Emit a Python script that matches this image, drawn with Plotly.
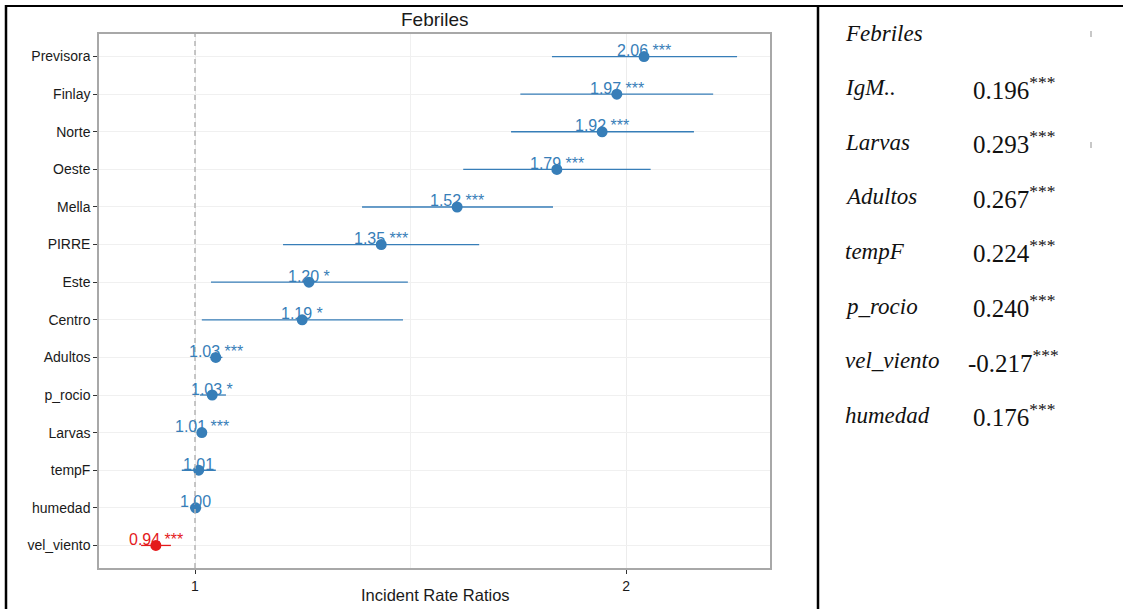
import math
import plotly.graph_objects as go

# forest plot data (top to bottom)
terms = ['Previsora', 'Finlay', 'Norte', 'Oeste', 'Mella', 'PIRRE', 'Este', 'Centro',
         'Adultos', 'p_rocio', 'Larvas', 'tempF', 'humedad', 'vel_viento']
irr = [2.058, 1.97, 1.924, 1.789, 1.524, 1.349, 1.201, 1.188,
       1.034, 1.028, 1.011, 1.006, 1.001, 0.939]
ci_low = [1.775, 1.687, 1.662, 1.539, 1.308, 1.152, 1.026, 1.011,
          1.024, 1.008, 1.006, 0.979, 0.992, 0.917]
ci_high = [2.39, 2.30, 2.23, 2.08, 1.778, 1.579, 1.408, 1.397,
           1.045, 1.051, 1.016, 1.034, 1.01, 0.962]
stars = ['***', '***', '***', '***', '***', '***', '*', '*',
         '***', '*', '***', '', '', '***']
x_ticks = [1, 2]
ref_value = 1

# side table
tbl_vars = ['Febriles', 'IgM..', 'Larvas', 'Adultos', 'tempF', 'p_rocio', 'vel_viento', 'humedad']
tbl_coef = ['', '0.196', '0.293', '0.267', '0.224', '0.240', '-0.217', '0.176']
tbl_sig = ['', '***', '***', '***', '***', '***', '***', '***']

W, H = 1123, 609
BLUE = '#377eb8'
RED = '#e41a1c'
SANS = 'Liberation Sans, Arial, sans-serif'
SERIF = 'Liberation Serif, Times New Roman, serif'


def px_x(p):
    return p / W


def px_y(p):
    return 1 - p / H


fig = go.Figure()

# dashed reference line at IRR = 1 (on a hidden 0..1 axis so it spans the panel)
fig.add_trace(go.Scatter(
    x=[ref_value, ref_value], y=[0, 1], yaxis='y2',
    mode='lines', line=dict(color='#b5b5b5', width=1.5, dash='5px,4px'),
    showlegend=False, hoverinfo='skip',
))

# positive and negative effects drawn as separate traces
for color, keep in [(BLUE, lambda v: v >= 1), (RED, lambda v: v < 1)]:
    idx = [i for i, v in enumerate(irr) if keep(v)]
    fig.add_trace(go.Scatter(
        x=[irr[i] for i in idx],
        y=[terms[i] for i in idx],
        mode='markers',
        marker=dict(size=11, color=color),
        error_x=dict(type='data', symmetric=False,
                     array=[ci_high[i] - irr[i] for i in idx],
                     arrayminus=[irr[i] - ci_low[i] for i in idx],
                     width=0, thickness=1.3, color=color),
        showlegend=False,
        hoverinfo='skip',
    ))

# value labels above each point
annotations = []
for t, v, s in zip(terms, irr, stars):
    annotations.append(dict(
        x=math.log10(v), y=t, xref='x', yref='y',
        text=f'{v:.2f} {s}'.strip(), showarrow=False,
        xanchor='center', yanchor='middle', yshift=6,
        font=dict(family=SANS, size=16, color=BLUE if v >= 1 else RED),
    ))

# title and axis title
annotations.append(dict(x=px_x(435), y=px_y(20), xref='paper', yref='paper',
                        text='Febriles', showarrow=False, xanchor='center', yanchor='middle',
                        font=dict(family=SANS, size=19, color='#1a1a1a')))
annotations.append(dict(x=px_x(435), y=px_y(595), xref='paper', yref='paper',
                        text='Incident Rate Ratios', showarrow=False, xanchor='center', yanchor='middle',
                        font=dict(family=SANS, size=16.5, color='#1a1a1a')))

# side table
row0, step = 33, 54.6
for i, (name, coef, sig) in enumerate(zip(tbl_vars, tbl_coef, tbl_sig)):
    yy = px_y(row0 + i * step)
    annotations.append(dict(x=px_x(843), y=yy, xref='paper', yref='paper',
                            text=f'<i>{name}</i>', showarrow=False,
                            xanchor='left', yanchor='middle',
                            font=dict(family=SERIF, size=23, color='#111111')))
    if coef:
        annotations.append(dict(x=px_x(966 if coef.startswith('-') else 971), y=yy, xref='paper', yref='paper',
                                text=f'{coef}<sup>{sig}</sup>', showarrow=False,
                                xanchor='left', yanchor='middle',
                                font=dict(family=SERIF, size=25, color='#111111')))

shapes = [
    # frame lines of the figure
    dict(type='line', xref='paper', yref='paper', x0=px_x(5), x1=1, y0=px_y(6), y1=px_y(6),
         line=dict(color='black', width=2)),
    dict(type='line', xref='paper', yref='paper', x0=px_x(6), x1=px_x(6), y0=0, y1=px_y(5),
         line=dict(color='black', width=2.5)),
    dict(type='line', xref='paper', yref='paper', x0=px_x(818), x1=px_x(818), y0=0, y1=px_y(5),
         line=dict(color='black', width=2.5)),
    # small scan marks in the table
    dict(type='rect', xref='paper', yref='paper', x0=px_x(1090), x1=px_x(1092), y0=px_y(37), y1=px_y(31),
         fillcolor='#c8c8c8', line=dict(width=0)),
    dict(type='rect', xref='paper', yref='paper', x0=px_x(1090), x1=px_x(1092), y0=px_y(148), y1=px_y(142),
         fillcolor='#c8c8c8', line=dict(width=0)),
]

fig.update_layout(
    width=W, height=H,
    margin=dict(l=0, r=0, t=0, b=0),
    paper_bgcolor='white', plot_bgcolor='white',
    annotations=annotations,
    shapes=shapes,
    xaxis=dict(
        type='log',
        domain=[px_x(99), px_x(770)],
        range=[math.log10(0.857), math.log10(2.52)],
        tickmode='array', tickvals=x_ticks, ticktext=[str(v) for v in x_ticks],
        ticks='outside', ticklen=4, tickcolor='#333333', tickwidth=1,
        tickfont=dict(family=SANS, size=14, color='#1a1a1a'),
        showgrid=True, gridcolor='#ececec', gridwidth=1,
        minor=dict(tickvals=[1.414], showgrid=True, gridcolor='#f0f0f0', gridwidth=1, ticks=''),
        showline=True, linecolor='#a8a8a8', linewidth=1.5, mirror=True,
        zeroline=False,
    ),
    yaxis=dict(
        type='category', categoryorder='array', categoryarray=terms,
        domain=[px_y(568), px_y(34)],
        range=[13.6, -0.6],
        ticks='outside', ticklen=4, tickcolor='#333333', tickwidth=1,
        tickfont=dict(family=SANS, size=14, color='#1a1a1a'),
        showgrid=True, gridcolor='#f0f0f0', gridwidth=1,
        showline=True, linecolor='#a8a8a8', linewidth=1.5, mirror=True,
        zeroline=False,
    ),
    yaxis2=dict(
        overlaying='y', range=[0, 1], visible=False, fixedrange=True,
    ),
)

fig.write_html("out.html", config={'displayModeBar': False},
               post_script="document.body.style.margin='0px';")
